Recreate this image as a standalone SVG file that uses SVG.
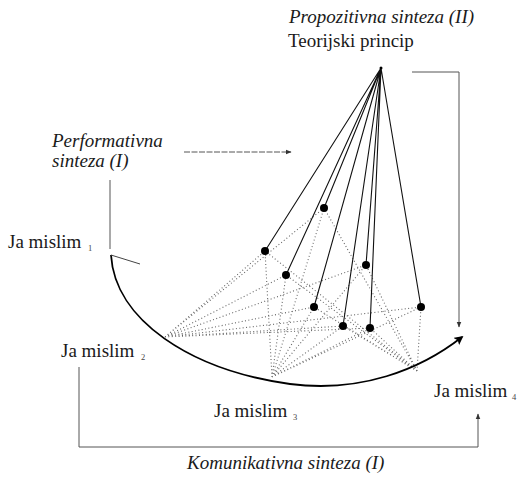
<svg xmlns="http://www.w3.org/2000/svg" width="519" height="482" viewBox="0 0 519 482">
<defs>
<style>
.t{font-family:"Liberation Serif","DejaVu Serif",serif;font-size:19px;fill:#1a1a1a}
.i{font-style:italic}
.sub{font-family:"Liberation Serif","DejaVu Serif",serif;font-size:8.5px;fill:#444}
.ray{stroke:#111;stroke-width:1.1;fill:none}
.dot{stroke:#666;stroke-width:1.1;stroke-dasharray:1 2.4;fill:none}
.thin{stroke:#555;stroke-width:1;fill:none}
.node{fill:#000}
</style>
<marker id="ah" viewBox="0 0 10 10" refX="9" refY="5" markerWidth="6" markerHeight="6" orient="auto">
<path d="M0,1 L10,5 L0,9 Z" fill="#333"/>
</marker>
<marker id="big" viewBox="0 0 10 10" refX="8" refY="5" markerWidth="5" markerHeight="5" orient="auto" markerUnits="strokeWidth">
<path d="M0,0 L10,5 L0,10 L2,5 Z" fill="#000"/>
</marker>
</defs>
<rect width="519" height="482" fill="#fff"/>

<g id="connectors">
<g id="web">
<path class="dot" d="M165,337 L265,251 M165,337 L324,208 M165,337 L286,275 M165,337 L366,265 M165,337 L314,307 M165,337 L343,326 M165,337 L370,328 M165,337 L421,307"/>
<path class="dot" d="M272,377 L265,251 M272,377 L324,208 M272,377 L286,275 M272,377 L366,265 M272,377 L314,307 M272,377 L343,326 M272,377 L370,328 M272,377 L421,307"/>
<path class="dot" d="M417,371 L265,251 M417,371 L324,208 M417,371 L286,275 M417,371 L366,265 M417,371 L314,307 M417,371 L343,326 M417,371 L370,328 M417,371 L421,307"/>
</g>
<g id="rays">
<path class="ray" d="M381,68 L265,251 M381,68 L324,208 M381,68 L286,275 M381,68 L366,265 M381,68 L314,307 M381,68 L343,326 M381,68 L370,328 M381,68 L421,307"/>
</g>
<path d="M111,255 C115,320 190,370 290,384 C360,393 420,370 462,337" stroke="#000" stroke-width="1.8" fill="none" marker-end="url(#big)"/>
<path d="M111,255 L140,264" stroke="#444" stroke-width="1"/>
<path class="thin" d="M184,152 L291,152" stroke="#888" stroke-dasharray="6 1.5" marker-end="url(#ah)"/>
<path class="thin" d="M110,180 L110,249" stroke="#777"/>
<path class="thin" d="M412,72 L459,72 L459,327" stroke="#777" marker-end="url(#ah)"/>
<path class="thin" d="M79,367 L79,447 L478,447 L478,414" marker-end="url(#ah)"/>
</g>

<g id="apex"><circle cx="381" cy="68" r="1.5" class="node"/></g>
<g id="points">
<circle class="node" cx="265" cy="251" r="4"/>
<circle class="node" cx="324" cy="208" r="4"/>
<circle class="node" cx="286" cy="275" r="4"/>
<circle class="node" cx="366" cy="265" r="4"/>
<circle class="node" cx="314" cy="307" r="4"/>
<circle class="node" cx="343" cy="326" r="4"/>
<circle class="node" cx="370" cy="328" r="4"/>
<circle class="node" cx="421" cy="307" r="4"/>
</g>

<g id="propozitivna">
<text class="t i" x="289" y="23">Propozitivna sinteza (II)</text>
<text class="t" x="288" y="47">Teorijski princip</text>
</g>
<g id="performativna">
<text class="t i" x="52" y="147">Performativna</text>
<text class="t i" x="52" y="167">sinteza (I)</text>
</g>
<g id="ja1"><text class="t" x="8" y="248">Ja mislim</text><text class="sub" x="88" y="251">1</text></g>
<g id="ja2"><text class="t" x="61" y="357">Ja mislim</text><text class="sub" x="141" y="360">2</text></g>
<g id="ja3"><text class="t" x="214" y="417">Ja mislim</text><text class="sub" x="293" y="420">3</text></g>
<g id="ja4"><text class="t" x="434" y="397">Ja mislim</text><text class="sub" x="512" y="400">4</text></g>
<g id="komunikativna"><text class="t i" x="187" y="469">Komunikativna sinteza (I)</text></g>
</svg>
